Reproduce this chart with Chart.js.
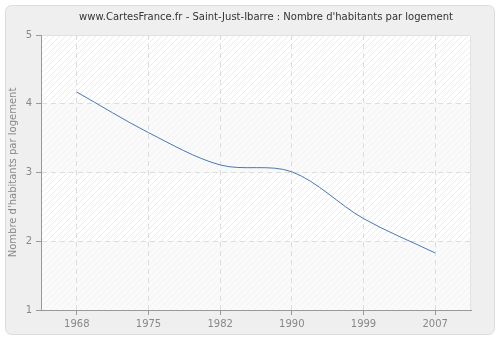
<!DOCTYPE html>
<html>
<head>
<meta charset="utf-8">
<script src="https://cdn.jsdelivr.net/npm/chart.js@4"></script>
<style>
  html, body { margin: 0; padding: 0; background: #ffffff; }
  #wrap { width: 500px; height: 340px; position: relative; }
</style>
</head>
<body>
<div id="wrap"><canvas id="chart" width="500" height="340"></canvas></div>
<script>
// Data
const years = ["1968", "1975", "1982", "1990", "1999", "2007"];
const habitantsParLogement = [4.17, 3.58, 3.11, 3.01, 2.33, 1.83];
const yTicks = [1, 2, 3, 4, 5];

const chartTitle = "www.CartesFrance.fr - Saint-Just-Ibarre : Nombre d'habitants par logement";
const yTitle = "Nombre d'habitants par logement";

// Diagonal hatch used for the plot background
function makeHatch(bg, line) {
    const c = document.createElement("canvas");
    c.width = 6;
    c.height = 6;
    const g = c.getContext("2d");
    g.fillStyle = bg;
    g.fillRect(0, 0, 6, 6);
    g.strokeStyle = line;
    g.lineWidth = 1;
    g.beginPath();
    g.moveTo(0, 6); g.lineTo(6, 0);
    g.moveTo(-3, 3); g.lineTo(3, -3);
    g.moveTo(3, 9); g.lineTo(9, 3);
    g.stroke();
    return g.createPattern(c, "repeat");
}

// Outer panel + plot background drawn before the chart
const backdrop = {
    id: "backdrop",
    beforeDraw(chart) {
        const ctx = chart.ctx;
        const a = chart.chartArea;
        ctx.save();
        ctx.fillStyle = "#ffffff";
        ctx.fillRect(0, 0, chart.width, chart.height);
        // rounded panel
        ctx.fillStyle = "#efefef";
        ctx.strokeStyle = "#dcdcdc";
        ctx.lineWidth = 1;
        ctx.beginPath();
        ctx.roundRect(5.5, 5.5, 489, 329, 6);
        ctx.fill();
        ctx.stroke();

        // plot area, alternating hatched bands
        const y = chart.scales.y;
        const strong = makeHatch("#ffffff", "#ececec");
        const soft = makeHatch("#fafafa", "#f3f3f3");
        for (let v = 1; v < 5; v++) {
            const top = y.getPixelForValue(v + 1);
            const bot = y.getPixelForValue(v);
            ctx.fillStyle = (v % 2 === 0) ? strong : soft;
            ctx.fillRect(a.left, top, a.right - a.left, bot - top);
        }
        ctx.strokeStyle = "#e2e2e2";
        ctx.beginPath();
        ctx.moveTo(a.left, a.top + 0.5);
        ctx.lineTo(a.right - 0.5, a.top + 0.5);
        ctx.lineTo(a.right - 0.5, a.bottom);
        ctx.stroke();

        // title
        ctx.fillStyle = "#333333";
        ctx.font = "10px 'DejaVu Sans'";
        ctx.textAlign = "center";
        ctx.textBaseline = "middle";
        ctx.fillText(chartTitle, 266, 17);
        ctx.restore();
    }
};

const ctx = document.getElementById("chart").getContext("2d");
new Chart(ctx, {
    type: "line",
    data: {
        labels: years,
        datasets: [{
            label: yTitle,
            data: habitantsParLogement,
            borderColor: "#4a78b4",
            borderWidth: 1,
            pointRadius: 0,
            fill: false,
            tension: 0.33
        }]
    },
    options: {
        responsive: false,
        animation: false,
        devicePixelRatio: 1,
        layout: { padding: { left: 5, right: 29, top: 35, bottom: 0 } },
        plugins: {
            legend: { display: false },
            tooltip: { enabled: false },
            title: { display: false }
        },
        scales: {
            x: {
                type: "category",
                offset: true,
                grid: {
                    color: "#dddddd",
                    tickColor: "#999999",
                    tickLength: 5,
                    offset: false
                },
                border: { color: "#999999", dash: [5, 4] },
                ticks: {
                    color: "#888888",
                    font: { family: "DejaVu Sans", size: 10 },
                    padding: 3,
                    maxRotation: 0
                },
                afterFit(scale) { scale.height = 30; }
            },
            y: {
                min: 1,
                max: 5,
                afterBuildTicks(scale) {
                    scale.ticks = yTicks.map(v => ({ value: v }));
                },
                grid: {
                    color: (c) => (c.tick && (c.tick.value === 1 || c.tick.value === 5)) ? "rgba(0,0,0,0)" : "#dddddd",
                    tickColor: "#999999",
                    tickLength: 5
                },
                border: { color: "#999999", dash: [5, 4] },
                ticks: {
                    color: "#888888",
                    font: { family: "DejaVu Sans", size: 10 },
                    padding: 4
                },
                title: {
                    display: true,
                    text: yTitle,
                    color: "#888888",
                    font: { family: "DejaVu Sans", size: 10 },
                    padding: { top: 2, bottom: 0 }
                },
                afterFit(scale) { scale.width = 36; }
            }
        }
    },
    plugins: [backdrop]
});
</script>
</body>
</html>
